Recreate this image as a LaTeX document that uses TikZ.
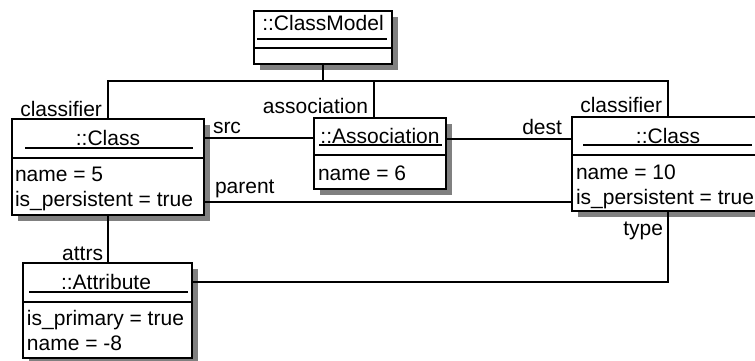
\documentclass[tikz,border=0pt]{standalone}
\usepackage{fontspec}
\setmainfont{Liberation Sans}
\usetikzlibrary{shadows}
\definecolor{shadowgray}{RGB}{128,128,128}
\begin{document}
\begin{tikzpicture}[x=1pt,y=-1pt,
  umlbox/.style={draw, line width=2pt, fill=white, inner sep=0pt, outer sep=0pt, anchor=north west,
    general shadow={fill=shadowgray, shadow xshift=6pt, shadow yshift=-6pt}},
  conn/.style={line width=1.1pt},
  uline/.style={line width=1.3pt},
  sepline/.style={line width=2pt},
  txt/.style={inner sep=0pt, outer sep=0pt, font=\fontsize{21}{25}\selectfont},
  ttl/.style={txt, anchor=base},
  attr/.style={txt, anchor=base west},
  lblw/.style={txt, anchor=base west},
  lble/.style={txt, anchor=base east}]
\useasboundingbox (0,0) rectangle (755,360);

% ---- boxes ----
\node[umlbox, minimum width=138pt, minimum height=53pt] (cm) at (254,11) {};
\node[umlbox, minimum width=192pt, minimum height=96pt] (lc) at (12,119) {};
\node[umlbox, minimum width=132pt, minimum height=71pt] (as) at (314,118) {};
\node[umlbox, minimum width=192pt, minimum height=94pt] (rc) at (572,117) {};
\node[umlbox, minimum width=169pt, minimum height=95pt] (at) at (23,263) {};

% ClassModel
\node[ttl] (cmt) at (323,30) {::ClassModel};
\draw[uline] (257,39) -- (387,39);
\draw[sepline] (254,48) -- (392,48);

% left Class
\node[ttl] (lct) at (108,145) {::Class};
\draw[uline] (25,148) -- (193,148);
\draw[sepline] (12,158) -- (204,158);
\node[attr] (lca1) at (15,181) {name = 5};
\node[attr] (lca2) at (15,206) {is\_persistent = true};

% Association
\node[ttl] (ast) at (380,143) {::Association};
\draw[uline] (319,145) -- (442,145);
\draw[sepline] (314,155) -- (446,155);
\node[attr] (asa1) at (318,180) {name = 6};

% right Class
\node[ttl] (rct) at (668,143) {::Class};
\draw[uline] (583,145) -- (752,145);
\draw[sepline] (572,155) -- (764,155);
\node[attr] (rca1) at (576,179) {name = 10};
\node[attr] (rca2) at (576,204) {is\_persistent = true};

% Attribute
\node[ttl] (att) at (106,289) {::Attribute};
\draw[uline] (29,292) -- (188,292);
\draw[sepline] (23,302) -- (192,302);
\node[attr] (ata1) at (27,325) {is\_primary = true};
\node[attr] (ata2) at (27,350) {name = -8};

% ---- connectors ----
\coordinate (fork) at (323,81);
\coordinate (asx) at (374,0);
\coordinate (srcy) at (0,138);
\coordinate (desty) at (0,139);
\coordinate (pary) at (0,202);
\coordinate (typey) at (0,282);

\draw[conn] (cm.south) -- (fork);
\draw[conn] (lc.north) |- (fork) -| (rc.north);
\draw[conn] (asx |- as.north) -- (asx |- fork);
\draw[conn] (lc.east |- srcy) -- (as.west |- srcy);
\draw[conn] (as.east |- desty) -- (rc.west |- desty);
\draw[conn] (lc.east |- pary) -- (rc.west |- pary);
\draw[conn] (lc.south) -- (lc.south |- at.north);
\draw[conn] (at.east |- typey) -| (rc.south);

% ---- labels ----
\node[lble] (l1) at (102,116) {classifier};
\node[lble] (l2) at (368,113) {association};
\node[lble] (l3) at (662,112) {classifier};
\node[lblw] (l4) at (213,133) {src};
\node[lble] (l5) at (562,134) {dest};
\node[lblw] (l6) at (215,193) {parent};
\node[lble] (l7) at (103,260) {attrs};
\node[lble] (l8) at (663,235) {type};
\end{tikzpicture}
\end{document}
